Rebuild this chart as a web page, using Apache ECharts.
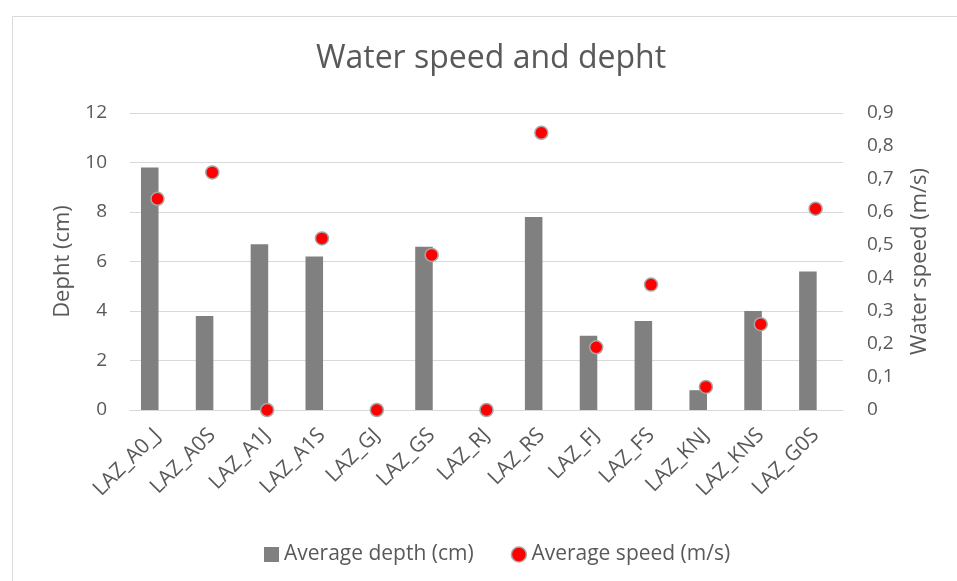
<!DOCTYPE html>
<html>
<head>
<meta charset="utf-8">
<script src="https://cdn.jsdelivr.net/npm/echarts@6/dist/echarts.min.js"></script>
<style>
  html, body { margin: 0; padding: 0; background: #ffffff; }
  #chart { width: 957px; height: 581px; }
</style>
</head>
<body>
<div id="chart"></div>
<script>
// Sampling sites along the x axis
const sites = ['LAZ_A0_J', 'LAZ_A0S', 'LAZ_A1J', 'LAZ_A1S', 'LAZ_GJ', 'LAZ_GS', 'LAZ_RJ',
  'LAZ_RS', 'LAZ_FJ', 'LAZ_FS', 'LAZ_KNJ', 'LAZ_KNS', 'LAZ_G0S'];
// Average depth per site (cm), left axis
const depth = [9.8, 3.8, 6.7, 6.2, 0, 6.6, 0, 7.8, 3.0, 3.6, 0.8, 4.0, 5.6];
// Average speed per site (m/s), right axis
const speed = [0.64, 0.72, 0, 0.52, 0, 0.47, 0, 0.84, 0.19, 0.38, 0.07, 0.26, 0.61];

const textColor = '#595959';
const gridColor = '#d9d9d9';
const fontFamily = '"Open Sans", sans-serif';

const chart = echarts.init(document.getElementById('chart'), null, { renderer: 'canvas' });

// Bars sit slightly left of the category centre, as in a clustered layout
function renderDepthBar(params, api) {
  const idx = api.value(0);
  const val = api.value(1);
  if (!val) return null;
  const top = api.coord([idx, val]);
  const base = api.coord([idx, 0]);
  const band = api.size([1, 0])[0];
  const w = band * 0.32;
  const cx = top[0] - band * 0.14;
  return {
    type: 'rect',
    shape: { x: cx - w / 2, y: top[1], width: w, height: base[1] - top[1] },
    style: { fill: '#808080' }
  };
}

chart.setOption({
  backgroundColor: '#ffffff',
  animation: false,
  graphic: [{
    type: 'rect',
    left: 10, top: 14,
    shape: { width: 960, height: 580 },
    style: { fill: 'none', stroke: gridColor, lineWidth: 1 },
    silent: true, z: -1
  }],
  title: {
    text: 'Water speed and depht',
    left: 486, top: 38, textAlign: 'center',
    textStyle: { color: textColor, fontSize: 32, fontWeight: 'normal', fontFamily }
  },
  legend: {
    bottom: 11, left: 259,
    itemWidth: 15, itemHeight: 15, itemGap: 37,
    textStyle: { color: textColor, fontSize: 21, fontFamily },
    data: [
      { name: 'Average depth (cm)', icon: 'rect', itemStyle: { color: '#808080' } },
      { name: 'Average speed (m/s)', icon: 'circle', itemStyle: { color: '#ff0000', borderColor: '#a6a6a6', borderWidth: 1.5 } }
    ]
  },
  grid: { left: 130, right: 114, top: 113, bottom: 171 },
  xAxis: {
    type: 'category',
    data: sites,
    axisLine: { lineStyle: { color: gridColor, width: 1 } },
    axisTick: { show: false },
    axisLabel: { rotate: 45, margin: 22, color: textColor, fontSize: 21, fontFamily, interval: 0 }
  },
  yAxis: [{
    type: 'value', min: 0, max: 12, interval: 2,
    name: 'Depht (cm)', nameLocation: 'middle', nameGap: 56, nameRotate: 90,
    nameTextStyle: { color: textColor, fontSize: 22, fontFamily },
    axisLine: { show: false }, axisTick: { show: false },
    axisLabel: { margin: 23, color: textColor, fontSize: 19, fontFamily },
    splitLine: { lineStyle: { color: gridColor, width: 1 } }
  }, {
    type: 'value', min: 0, max: 0.9, interval: 0.1, position: 'right',
    name: 'Water speed (m/s)', nameLocation: 'middle', nameGap: 66, nameRotate: 90,
    nameTextStyle: { color: textColor, fontSize: 22, fontFamily },
    axisLine: { show: false }, axisTick: { show: false },
    axisLabel: {
      margin: 24, color: textColor, fontSize: 19, fontFamily,
      formatter: v => String(Math.round(v * 10) / 10).replace('.', ',')
    },
    splitLine: { show: false }
  }],
  series: [{
    name: 'Average depth (cm)',
    type: 'custom',
    yAxisIndex: 0,
    renderItem: renderDepthBar,
    itemStyle: { color: '#808080' },
    encode: { x: 0, y: 1 },
    data: depth.map((v, i) => [i, v]),
    z: 2
  }, {
    name: 'Average speed (m/s)',
    type: 'scatter',
    yAxisIndex: 1,
    symbol: 'circle',
    symbolSize: 13,
    itemStyle: { color: '#ff0000', borderColor: '#a6a6a6', borderWidth: 1.5, opacity: 1 },
    data: speed,
    z: 3
  }]
});
</script>
</body>
</html>
